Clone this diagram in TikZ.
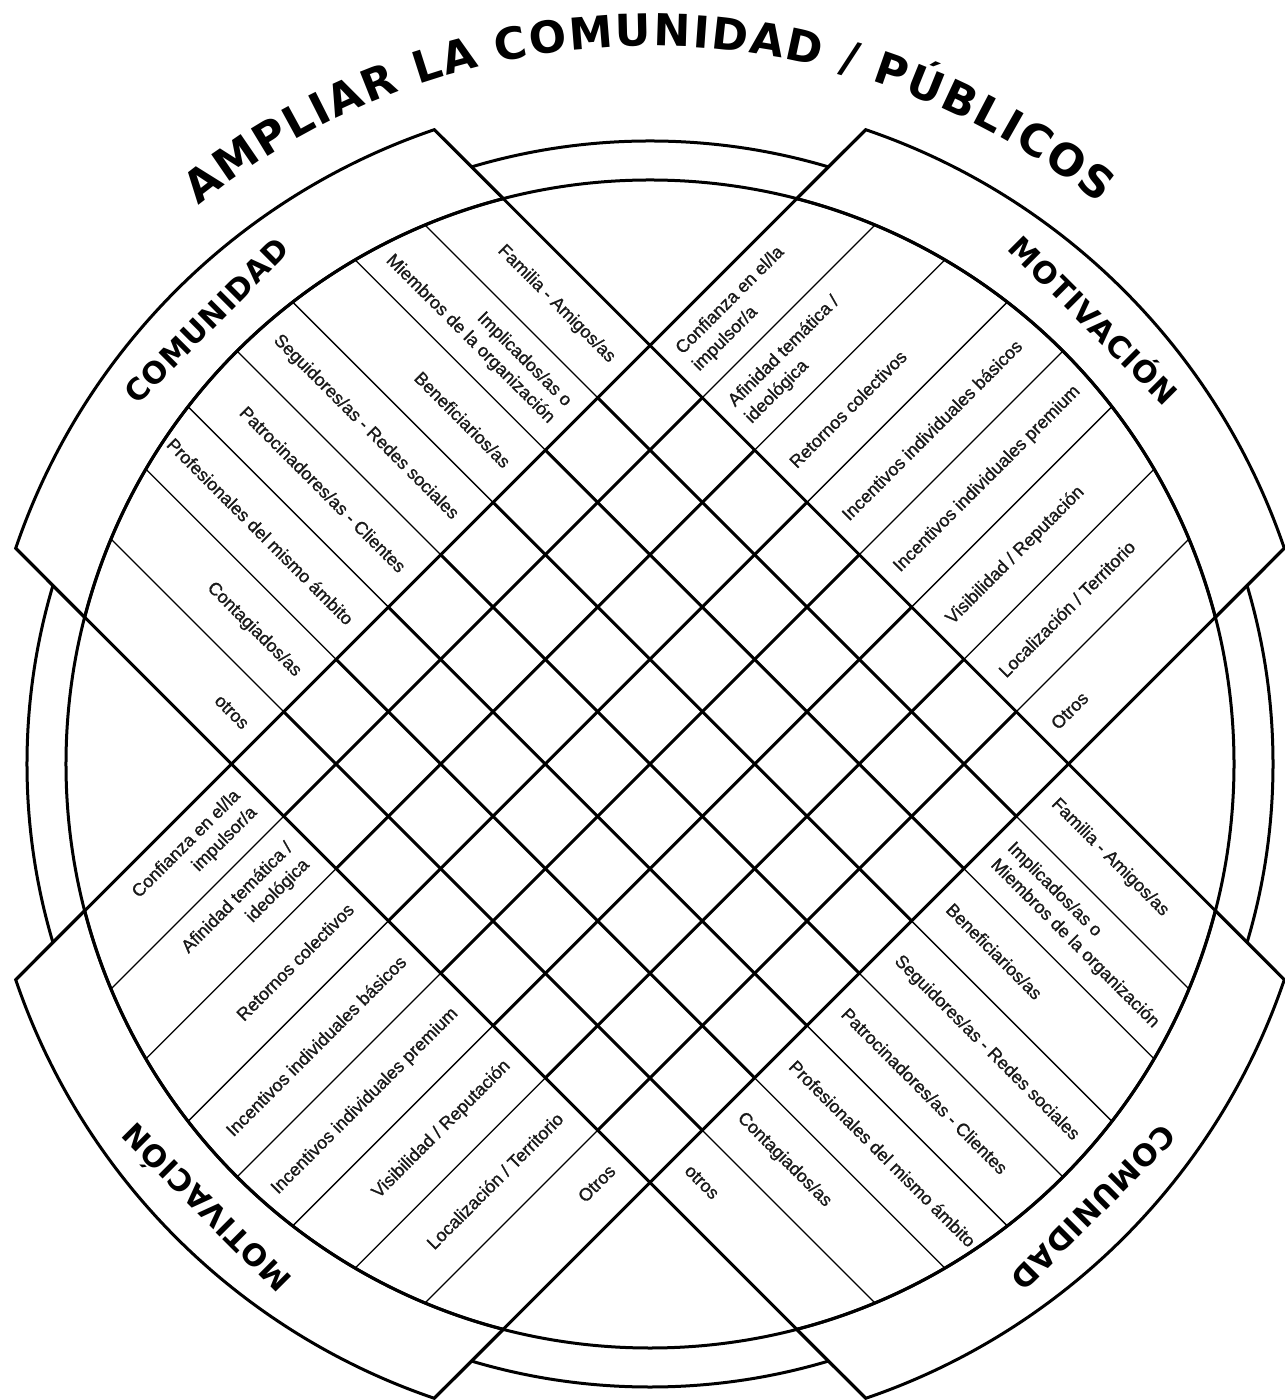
\documentclass[tikz,border=0pt]{standalone}
\usepackage{fontspec}
\setmainfont{Liberation Sans}
\newfontfamily\heavyfont{DejaVu Sans}
\usepackage{tikz}
\usetikzlibrary{decorations.text}
\definecolor{ink}{RGB}{0,0,0}
\definecolor{labelink}{RGB}{25,25,25}
\newcommand{\titlefont}{\heavyfont\fontsize{22}{22}\selectfont\bfseries}

\begin{document}
\begin{tikzpicture}[x=0.5pt, y=0.5pt,
  heavy/.style={draw=ink, line width=1.5pt},
  light/.style={draw=ink, line width=0.65pt},
  capbox/.style={heavy, fill=white, line join=miter},
  armtext/.style={font=\fontsize{9}{11.8}\selectfont\addfontfeature{FakeBold=1.1}, text=labelink, inner sep=0pt},
  captext/.style={font=\heavyfont\fontsize{15}{15}\selectfont\bfseries\addfontfeature{LetterSpace=3}, text=ink, inner sep=0pt, text height=10.9pt, text depth=0pt}]
  \useasboundingbox (-650,-636) rectangle (634,764);
  \draw[heavy] (0,0) circle[radius=623];
  \foreach \rot in {-45,45}
    \foreach \a in {0,180}
      \draw[capbox, rotate=\rot] ({\a-26.22}:670) arc[start angle={\a-26.22}, delta angle=52.44, radius=670] -- ({\a+30.46}:584) arc[start angle={\a+30.46}, delta angle=-60.92, radius=584] -- cycle;
  \draw[heavy] (0,0) circle[radius=584];
  \begin{scope}[rotate=-45]
    \draw[heavy] (-601.07,296) -- (601.07,296) (-601.07,-296) -- (601.07,-296);
    \foreach \y/\xi in {222/540.2,148/564.9,74/579.3,0/584,-74/579.3,-148/564.9,-222/540.2} {
      \draw[light] (-\xi,\y) -- (-296,\y) (296,\y) -- (\xi,\y);
      \draw[heavy] (-296,\y) -- (296,\y);
    }
    \foreach \txt [count=\k] in {Familia - Amigos/as, Implicados/as o\\Miembros de la organización, Beneficiarios/as, Seguidores/as - Redes sociales, Patrocinadores/as - Clientes, Profesionales del mismo ámbito, Contagiados/as, otros} {
      \node[armtext, anchor=east, align=right, rotate=-45] (comtl\k) at (-312,{333-74*\k}) {\txt};
      \node[armtext, anchor=west, align=left, rotate=-45] (combr\k) at (312,{333-74*\k}) {\txt};
    }
  \end{scope}
  \begin{scope}[rotate=45]
    \draw[heavy] (-601.07,296) -- (601.07,296) (-601.07,-296) -- (601.07,-296);
    \foreach \y/\xi in {222/540.2,148/564.9,74/579.3,0/584,-74/579.3,-148/564.9,-222/540.2} {
      \draw[light] (-\xi,\y) -- (-296,\y) (296,\y) -- (\xi,\y);
      \draw[heavy] (-296,\y) -- (296,\y);
    }
    \foreach \txt [count=\k] in {Confianza en el/la\\impulsor/a, Afinidad temática /\\ideológica, Retornos colectivos, Incentivos individuales básicos, Incentivos individuales premium, Visibilidad / Reputación, Localización / Territorio, Otros} {
      \node[armtext, anchor=west, align=left, rotate=45] (mottr\k) at (312,{333-74*\k}) {\txt};
      \node[armtext, anchor=east, align=right, rotate=45] (motbl\k) at (-312,{333-74*\k}) {\txt};
    }
  \end{scope}
  \node[captext, rotate=45] (capcomtl) at (135:627) {COMUNIDAD};
  \node[captext, rotate=-135] (capcombr) at (-45:627) {COMUNIDAD};
  \node[captext, rotate=-45] (capmottr) at (45:627) {MOTIVACIÓN};
  \node[captext, rotate=135] (capmotbl) at (225:627) {MOTIVACIÓN};
  \path[decorate, decoration={text along path, text align={fit to path}, text={|\titlefont|AMPLIAR LA COMUNIDAD / PÚBLICOS}}] (129:718) arc[start angle=129, end angle=51.3, radius=718];
\end{tikzpicture}
\end{document}
